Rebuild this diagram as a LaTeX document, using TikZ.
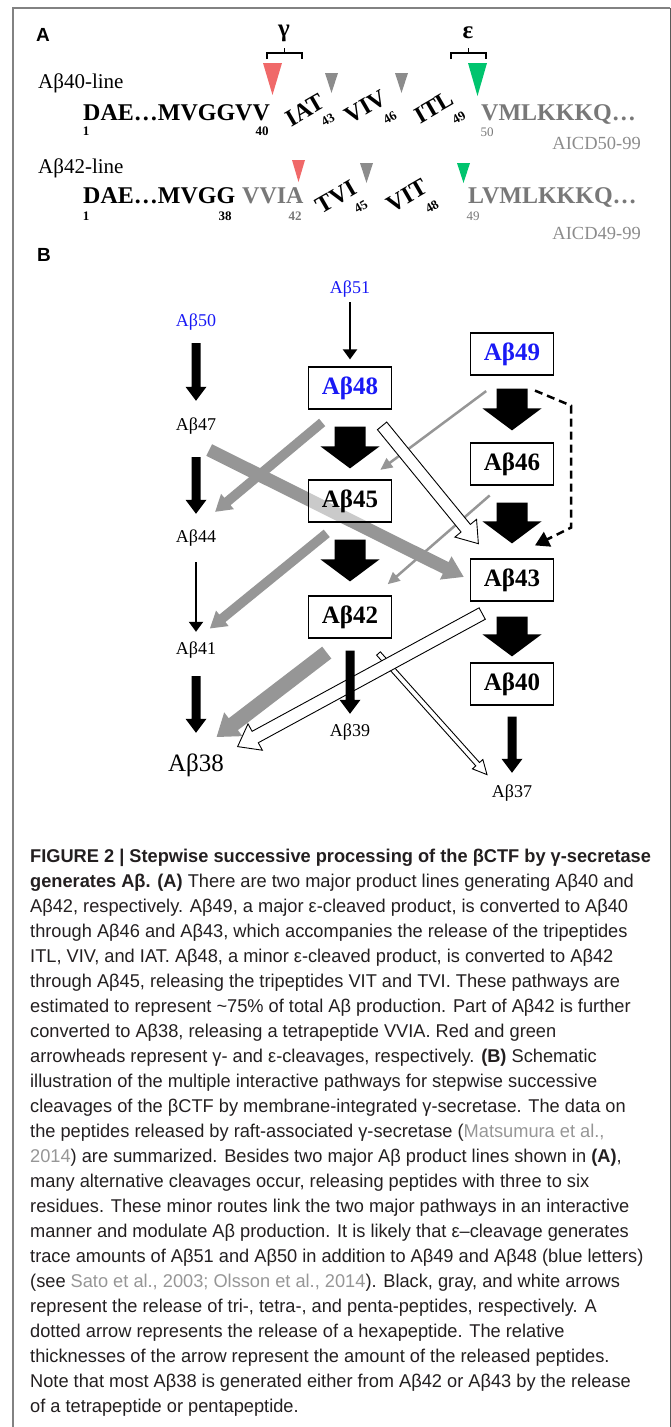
\documentclass[tikz,border=0pt]{standalone}
\usepackage{fontspec}
\setmainfont{Liberation Serif}
\newfontfamily\capfont[FakeStretch=0.985]{Liberation Sans}
\newfontfamily\panelfont{Liberation Sans}
\usetikzlibrary{arrows.meta,calc}

\definecolor{abblue}{RGB}{25,25,245}
\definecolor{arrowgray}{RGB}{150,150,150}
\definecolor{seqgray}{RGB}{120,120,120}
\definecolor{aicdgray}{RGB}{140,140,140}
\definecolor{trigray}{RGB}{140,140,140}
\definecolor{cutred}{RGB}{240,105,105}
\definecolor{cutgreen}{RGB}{0,196,110}
\definecolor{framegray}{RGB}{130,130,130}
\definecolor{captext}{RGB}{35,31,32}
\definecolor{refgray}{RGB}{150,150,150}

\pgfdeclarelayer{bg}
\pgfsetlayers{bg,main}

% block arrow: [style]{from}{to}{shorten start}{shorten end}{half shaft}{half head}{head length}
\newcommand{\blockarrow}[8][fill=black]{%
  \coordinate (ba-s) at ($(#2)!#4!(#3)$);
  \coordinate (ba-t) at ($(#3)!#5!(#2)$);
  \coordinate (ba-h) at ($(ba-t)!#8!(ba-s)$);
  \path[#1] ($(ba-s)!#6!90:(ba-t)$) -- ($(ba-h)!#6!90:(ba-t)$)
    -- ($(ba-h)!#7!90:(ba-t)$) -- (ba-t)
    -- ($(ba-h)!#7!-90:(ba-t)$) -- ($(ba-h)!#6!-90:(ba-t)$)
    -- ($(ba-s)!#6!-90:(ba-t)$) -- cycle;
}

\begin{document}
\begin{tikzpicture}[
    x = 1pt, y = -1pt,
    box/.style={ draw, line width=1.2pt, fill=white, fill opacity=0.5,
      text opacity=1, minimum width=83pt, minimum height=42pt,
      inner sep=0pt, font=\fontsize{25}{26}\selectfont\bfseries },
    lbl/.style={ inner sep=0pt, minimum width=44pt, minimum height=20pt,
      font=\fontsize{18}{19}\selectfont },
    seq/.style={ inner sep=0pt, font=\fontsize{24}{25}\selectfont\bfseries },
    num/.style={ inner sep=0pt, font=\fontsize{13}{13}\selectfont\bfseries },
    linelbl/.style={ inner sep=0pt, font=\fontsize{21}{22}\selectfont },
    aicd/.style={ inner sep=0pt, text=aicdgray, font=\fontsize{18.5}{19}\selectfont },
    panel/.style={ inner sep=0pt, font=\panelfont\fontsize{19}{20}\selectfont\bfseries },
    greek/.style={ inner sep=0pt, font=\fontsize{25}{26}\selectfont\bfseries },
    captxt/.style={ inner sep=0pt, text=captext, font=\capfont\fontsize{18.5}{20}\selectfont },
    thinarr/.style={ line width=2pt, -{Triangle[length=10pt,width=14pt]} },
    grayarr/.style={ draw=arrowgray, line width=2.5pt, -{Triangle[length=12pt,width=11pt]} },
    dasharr/.style={ line width=2.5pt, dash pattern=on 8pt off 5pt,
      -{Triangle[length=14pt,width=16pt]} },
    grayblock/.style={ fill=arrowgray },
    openblock/.style={ fill=white, draw=black, line width=0.9pt, line join=miter }
    ]
  \useasboundingbox (0,0) rectangle (671,1427);
  \draw[framegray, line width=2pt] (12.5,1427) -- (12.5,8) -- (670,8);
  \draw[black!65, line width=1pt] (670,8) -- (670,1427);

  % panel A
  \node[panel] (pa) at (43,35) {A};
  \node[greek] (gam) at (284,33) {γ};
  \node[greek] (eps) at (468,33) {ε};
  \draw[line width=1.3pt] (267,59) -- (267,53) -- (302,53) -- (302,59)
    (284.5,53) -- (284.5,48);
  \draw[line width=1.3pt] (451,59) -- (451,53) -- (486,53) -- (486,59)
    (468.5,53) -- (468.5,48);

  \node[linelbl, anchor=base west] (l40) at (38,88) {Aβ40-line};
  \node[seq, anchor=base west] (s40a) at (83,120) {DAE…MVGGVV};
  \node[num] (n1a) at (86,131) {1};
  \node[num] (n40) at (262,131) {40};
  \node[seq, rotate=30] (iat) at (305,110) {IAT};
  \node[num, rotate=30] (n43) at (328,120) {43};
  \node[seq, rotate=30] (viv) at (366,107) {VIV};
  \node[num, rotate=30] (n46) at (390,118) {46};
  \node[seq, rotate=30] (itl) at (434,107) {ITL};
  \node[num, rotate=30] (n49a) at (459,118) {49};
  \node[seq, text=seqgray, anchor=base west] (s40b) at (481,120) {VMLKKKQ…};
  \node[num, text=seqgray] (n50) at (487,132) {\mdseries 50};
  \node[aicd, anchor=base east] (aicd50) at (641,149) {AICD50-99};
  \fill[cutred] (263,63) -- (282,63) -- (272.5,95) -- cycle;
  \fill[trigray] (325,73) -- (338,73) -- (331.5,93) -- cycle;
  \fill[trigray] (395,73) -- (408,73) -- (401.5,93) -- cycle;
  \fill[cutgreen] (468,63) -- (487,63) -- (477.5,96) -- cycle;

  \node[linelbl, anchor=base west] (l42) at (38,173) {Aβ42-line};
  \node[seq, anchor=base west] (s42a) at (83,203) {DAE…MVGG};
  \node[seq, text=seqgray, anchor=base west] (s42b) at (242,203) {VVIA};
  \node[num] (n1b) at (86,216) {1};
  \node[num] (n38) at (225,216) {38};
  \node[num, text=seqgray] (n42) at (295,216) {42};
  \node[seq, rotate=30] (tvi) at (336,197) {TVI};
  \node[num, rotate=30] (n45) at (361,207) {45};
  \node[seq, rotate=30] (vit) at (407,196) {VIT};
  \node[num, rotate=30] (n48) at (432,207) {48};
  \node[seq, text=seqgray, anchor=base west] (s42c) at (468,203) {LVMLKKKQ…};
  \node[num, text=seqgray] (n49b) at (473,216) {\mdseries 49};
  \node[aicd, anchor=base east] (aicd49) at (641,239) {AICD49-99};
  \fill[cutred] (292,160) -- (305,160) -- (298.5,182) -- cycle;
  \fill[trigray] (360,163) -- (373,163) -- (366.5,183) -- cycle;
  \fill[cutgreen] (457,163) -- (470,163) -- (463.5,183) -- cycle;

  % panel B
  \node[panel] (pb) at (44,255) {B};
  \node[lbl, text=abblue] (b51) at (350,289) {Aβ51};
  \node[lbl, text=abblue] (b50) at (196,322) {Aβ50};
  \node[box, text=abblue] (b49) at (512,354) {Aβ49};
  \node[box, text=abblue] (b48) at (350,388) {Aβ48};
  \node[lbl] (b47) at (196,426) {Aβ47};
  \node[box] (b46) at (512,464) {Aβ46};
  \node[box] (b45) at (350,501) {Aβ45};
  \node[lbl] (b44) at (196,538) {Aβ44};
  \node[box] (b43) at (512,580) {Aβ43};
  \node[box] (b42) at (350,617) {Aβ42};
  \node[lbl] (b41) at (196,650) {Aβ41};
  \node[box] (b40) at (512,684) {Aβ40};
  \node[lbl] (b39) at (350,732) {Aβ39};
  \node[lbl, minimum width=66pt, minimum height=24pt,
    font=\fontsize{25}{26}\selectfont] (b38) at (196,765) {Aβ38};
  \node[lbl] (b37) at (512,793) {Aβ37};

  % tetrapeptides (gray)
  \begin{pgfonlayer}{bg}
    \blockarrow[grayblock]{b47.-145}{b43.west}{31pt}{7pt}{6.5pt}{13pt}{20pt}
  \end{pgfonlayer}
  \blockarrow[grayblock]{b48.-120}{b44.north}{20pt}{25pt}{4.8pt}{10pt}{16pt}
  \blockarrow[grayblock]{b45.-115}{b41.north}{17pt}{18pt}{4.8pt}{10pt}{16pt}
  \blockarrow[grayblock]{b42.-103}{b38.north}{23pt}{26pt}{7.5pt}{15pt}{21pt}
  \draw[grayarr, shorten <=26pt, shorten >=16pt] (b49.-103) -- (b45.51);
  \draw[grayarr, shorten <=15pt, shorten >=17pt] (b46.-117) -- (b42.41);

  % pentapeptides (white)
  \blockarrow[openblock]{b42.-55}{b37.150}{20pt}{11pt}{2.5pt}{7pt}{14pt}
  \blockarrow[openblock]{b43.-110}{b38.22}{25pt}{13pt}{6.5pt}{15pt}{20pt}
  \blockarrow[openblock]{b48.-49}{b43.135}{21pt}{19pt}{6pt}{14pt}{20pt}

  % tripeptides (black)
  \draw[thinarr, shorten <=3pt, shorten >=7pt] (b51.south) -- (b48.north);
  \draw[thinarr, shorten <=14pt, shorten >=8pt] (b44.south) -- (b41.north);
  \blockarrow{b50.south}{b47.north}{11pt}{15pt}{4.5pt}{10.5pt}{14pt}
  \blockarrow{b47.south}{b44.north}{21pt}{14pt}{4.5pt}{10.5pt}{14pt}
  \blockarrow{b41.south}{b38.north}{16pt}{20pt}{4.5pt}{10.5pt}{14pt}
  \blockarrow{b42.south}{b39.north}{12pt}{8pt}{4.5pt}{10.5pt}{14pt}
  \blockarrow{b40.south}{b37.north}{11pt}{10pt}{4.5pt}{10.5pt}{14pt}
  \blockarrow{b49.south}{b46.north}{13pt}{12pt}{15.5pt}{29.5pt}{22pt}
  \blockarrow{b48.south}{b45.north}{17pt}{11pt}{15.5pt}{29.5pt}{22pt}
  \blockarrow{b46.south}{b43.north}{17pt}{15pt}{15.5pt}{29.5pt}{22pt}
  \blockarrow{b45.south}{b42.north}{17pt}{14pt}{15.5pt}{29.5pt}{22pt}
  \blockarrow{b43.south}{b40.north}{15pt}{6pt}{15.5pt}{29.5pt}{22pt}

  % hexapeptide
  \draw[dasharr] ([shift={(23,15)}]b49.south) -- ++(36,15) -- ++(0,122)
    -- ([shift={(23,-13)}]b43.north);

  % caption
  \foreach \capline [count=\i] in {%
    {\textbf{FIGURE 2 | Stepwise successive processing of the βCTF by γ-secretase}},%
    {\textbf{generates Aβ. (A)} There are two major product lines generating Aβ40 and},%
    {Aβ42, respectively. Aβ49, a major ε-cleaved product, is converted to Aβ40},%
    {through Aβ46 and Aβ43, which accompanies the release of the tripeptides},%
    {ITL, VIV, and IAT. Aβ48, a minor ε-cleaved product, is converted to Aβ42},%
    {through Aβ45, releasing the tripeptides VIT and TVI. These pathways are},%
    {estimated to represent \textasciitilde 75\% of total Aβ production. Part of Aβ42 is further},%
    {converted to Aβ38, releasing a tetrapeptide VVIA. Red and green},%
    {arrowheads represent γ- and ε-cleavages, respectively. \textbf{(B)} Schematic},%
    {illustration of the multiple interactive pathways for stepwise successive},%
    {cleavages of the βCTF by membrane-integrated γ-secretase. The data on},%
    {the peptides released by raft-associated γ-secretase (\textcolor{refgray}{Matsumura et al.,}},%
    {\textcolor{refgray}{2014}) are summarized. Besides two major Aβ product lines shown in \textbf{(A)},},%
    {many alternative cleavages occur, releasing peptides with three to six},%
    {residues. These minor routes link the two major pathways in an interactive},%
    {manner and modulate Aβ production. It is likely that ε–cleavage generates},%
    {trace amounts of Aβ51 and Aβ50 in addition to Aβ49 and Aβ48 (blue letters)},%
    {(see \textcolor{refgray}{Sato et al., 2003; Olsson et al., 2014}). Black, gray, and white arrows},%
    {represent the release of tri-, tetra-, and penta-peptides, respectively. A},%
    {dotted arrow represents the release of a hexapeptide. The relative},%
    {thicknesses of the arrow represent the amount of the released peptides.},%
    {Note that most Aβ38 is generated either from Aβ42 or Aβ43 by the release},%
    {of a tetrapeptide or pentapeptide.}%
  }
    \node[captxt, anchor=base west] (cap\i) at (30,{862+25*(\i-1)}) {\capline};
\end{tikzpicture}
\end{document}
